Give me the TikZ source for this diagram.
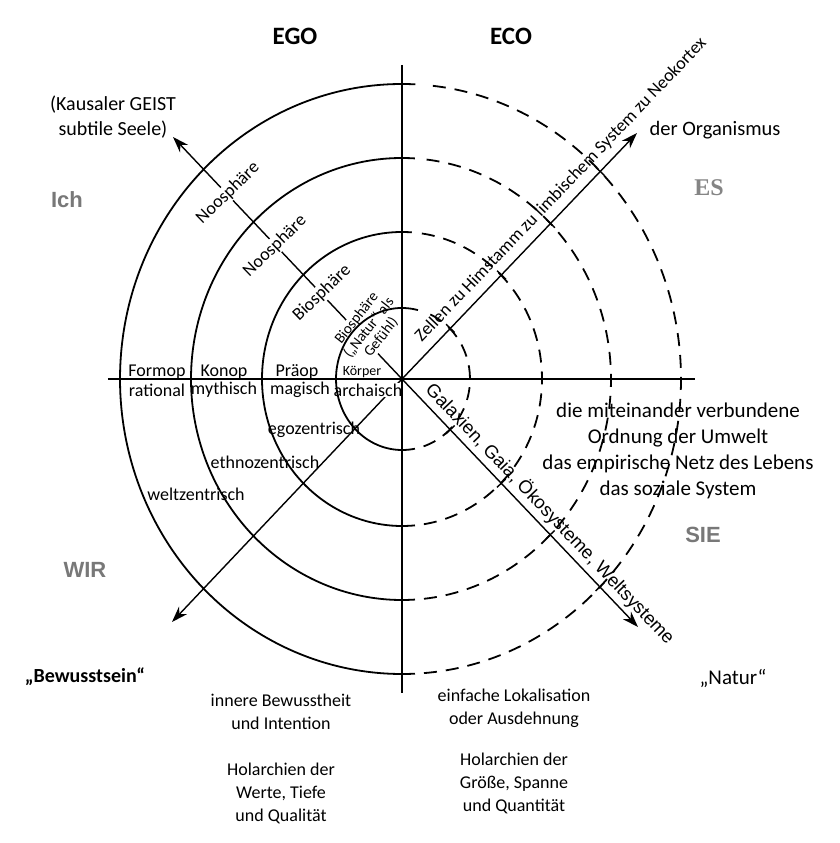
\documentclass[tikz,border=0pt]{standalone}
\usepackage{fontspec}
\setmainfont{Carlito}
\newfontfamily\arialf{Liberation Sans}
\newfontfamily\seriff{Liberation Serif}
\usetikzlibrary{arrows.meta}
\definecolor{lbl}{gray}{0.47}
\definecolor{lbles}{gray}{0.52}
\tikzset{
  ring/.style={line width=1.8pt},
  dring/.style={line width=1.8pt, dash pattern=on 13pt off 9pt},
  axis/.style={line width=1.1pt},
  diag/.style={line width=1.4pt},
  arr/.style={diag, -{Stealth[length=16pt,width=11pt]}},
  lab/.style={inner sep=0pt, font=\fontsize{18}{22}\selectfont},
  rlab/.style={lab, fill=white, inner sep=1pt},
  big/.style={inner sep=0pt, align=center, font=\fontsize{21}{26}\selectfont},
  bot/.style={inner sep=0pt, align=center, font=\fontsize{18}{23}\selectfont},
  quad/.style={inner sep=0pt, text=lbl, font=\arialf\bfseries\fontsize{22}{26}\selectfont},
  head/.style={inner sep=0pt, font=\bfseries\fontsize{25}{30}\selectfont}
}
\begin{document}
\begin{tikzpicture}[x=1pt,y=1pt]
\useasboundingbox (-402,-464) rectangle (438,379);
\coordinate (c) at (0,0);
\coordinate (ne) at (235,246);
\coordinate (nw) at (-229,242);
\coordinate (sw) at (-230,-243);
\coordinate (se) at (236,-248);
\coordinate (vt) at (0,314);
\coordinate (vb) at (0,-314);
\coordinate (hl) at (-294,0);
\coordinate (hr) at (293,0);

% diagonals
\draw[arr] (c) -- (ne);
\draw[arr] (c) -- (nw);
\draw[arr] (c) -- (sw);
\draw[arr] (c) -- (se);

% labels across the NW line
\node[rlab, rotate=44] (noo1) at (-174,186) {Noosphäre};
\node[rlab, rotate=44] (noo2) at (-127,133) {Noosphäre};
\node[rlab, rotate=44] (bio2) at (-80,86) {Biosphäre};
\node[rlab, rotate=52, align=center, font=\fontsize{15}{15.5}\selectfont] (bio1) at (-33,51) {Biosphäre\\(„Natur“ als\\Gefühl)};
\node[lab, fill=white, inner sep=1pt] (arch) at (-34,-11) {archaisch};

% rings: solid left, dashed right
\foreach \rx/\ry/\a in {66/71/76, 140/147/86, 211/221/86.5, 282/295/87.3} {
  \draw[ring] (c) ++(\a:\rx pt and \ry pt) arc[start angle=\a, end angle=270, x radius=\rx pt, y radius=\ry pt];
}
\foreach \rx/\ry/\b in {68/71/72, 140/147/83, 209/221/84, 279/295/85} {
  \draw[dring] (c) ++(-90:\rx pt and \ry pt) arc[start angle=-90, end angle=\b, x radius=\rx pt, y radius=\ry pt];
}

% axes
\draw[axis] (vt) -- (vb);
\draw[axis] (hl) -- (hr);

% ticks on the right diagonals
\begin{scope}[rotate=46.3]
  \foreach \d in {70,144,215,287} \draw[diag] (\d,-6) -- (\d,6);
\end{scope}
\begin{scope}[rotate=-46.4]
  \foreach \d in {70,144,215,287} \draw[diag] (\d,-6) -- (\d,6);
\end{scope}

% diagonal texts
\node[lab, rotate=46.3] (zell) at (159,189) {Zellen zu Himstamm zu limbischem System zu Neokortex};
\node[inner sep=0pt, rotate=-46.4, font=\arialf\fontsize{18.5}{22}\selectfont] (gal) at (148,-135) {Galaxien, Gaia, Ökosysteme, Weltsysteme};

% horizontal stage labels
\node[lab] (formop) at (-245,7) {Formop};
\node[lab] (ration) at (-245,-11) {rational};
\node[lab] (konop) at (-178,7) {Konop};
\node[lab] (mythi) at (-178,-11) {mythisch};
\node[lab] (praeop) at (-105,7) {Präop};
\node[lab] (magi) at (-102,-11) {magisch};
\node[lab, font=\fontsize{14}{16}\selectfont] (koerp) at (-40,7) {Körper};
\node[lab] (ego) at (-88,-51) {egozentrisch};
\node[lab] (ethno) at (-137,-83) {ethnozentrisch};
\node[lab] (welt) at (-206,-115) {weltzentrisch};

% headings and quadrant names
\node[head] (egoh) at (-107,343) {EGO};
\node[head] (ecoh) at (109,343) {ECO};
\node[quad] (ich) at (-335,179) {Ich};
\node[quad] (wir) at (-317,-191) {WIR};
\node[quad] (sie) at (301,-156) {SIE};
\node[inner sep=0pt, text=lbles, font=\seriff\bfseries\fontsize{24}{28}\selectfont] (es) at (307,191) {ES};

% other texts
\node[big, font=\fontsize{20}{25}\selectfont] (kaus) at (-289,261.5) {(Kausaler GEIST\\subtile Seele)};
\node[big, font=\fontsize{20.5}{25}\selectfont] (orga) at (313,249) {der Organismus};
\node[big] (umwelt) at (276,-72) {die miteinander verbundene\\Ordnung der Umwelt\\das empirische Netz des Lebens\\das soziale System};
\node[inner sep=0pt, font=\bfseries\fontsize{20}{24}\selectfont] (bew) at (-317,-298) {„Bewusstsein“};
\node[big] (natur) at (331,-299) {„Natur“};
\node[bot] (inner) at (-121,-332.5) {innere Bewusstheit\\und Intention};
\node[bot] (holl) at (-121,-414) {Holarchien der\\Werte, Tiefe\\und Qualität};
\node[bot] (einf) at (112,-329) {einfache Lokalisation\\oder Ausdehnung};
\node[bot] (holr) at (112,-404) {Holarchien der\\Größe, Spanne\\und Quantität};
\end{tikzpicture}
\end{document}
